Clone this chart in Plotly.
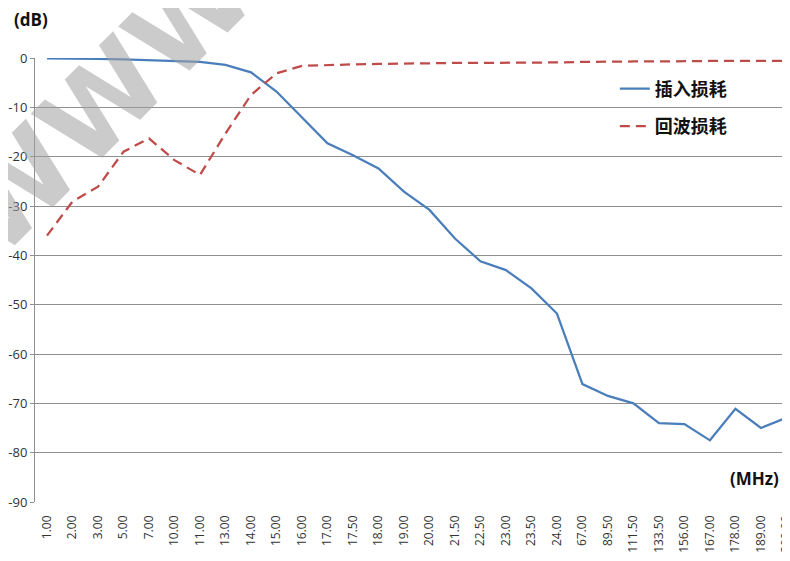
import plotly.graph_objects as go

categories = ["1.00", "2.00", "3.00", "5.00", "7.00", "10.00", "11.00", "13.00", "14.00", "15.00",
              "16.00", "17.00", "17.50", "18.00", "19.00", "20.00", "21.50", "22.50", "23.00", "23.50",
              "24.00", "67.00", "89.50", "111.50", "133.50", "156.00", "167.00", "178.00", "189.00", "200.00"]

insertion_loss = [-0.1, -0.1, -0.2, -0.3, -0.5, -0.6, -0.8, -1.4, -2.9, -6.8,
                  -12.0, -17.3, -19.7, -22.4, -27.1, -30.8, -36.6, -41.2, -43.0, -46.7,
                  -51.8, -66.1, -68.5, -70.0, -74.0, -74.2, -77.5, -71.1, -75.0, -72.9]

return_loss = [-36.0, -29.1, -26.1, -19.0, -16.3, -20.7, -23.7, -15.3, -7.5, -3.1,
               -1.6, -1.4, -1.3, -1.2, -1.1, -1.0, -1.0, -1.0, -1.0, -1.0,
               -0.9, -0.8, -0.7, -0.7, -0.7, -0.6, -0.6, -0.6, -0.6, -0.6]

series_names = ["插入损耗", "回波损耗"]
y_ticks = [0, -10, -20, -30, -40, -50, -60, -70, -80, -90]
y_tick_labels = ["0", "-10", "-20", "-30", "-40", "-50", "-60", "-70", "-80", "-90"]

fig = go.Figure()
fig.add_trace(go.Scatter(x=categories, y=insertion_loss, mode="lines", name=series_names[0],
                         legendgroup="a",
                         line=dict(color="#4a7ebb", width=2.25)))
fig.add_trace(go.Scatter(x=categories, y=return_loss, mode="lines", name=series_names[1],
                         legendgroup="b",
                         line=dict(color="#be4b48", width=2.25, dash="10px,6px")))

fig.update_layout(
    width=782, height=553,
    margin=dict(l=27, r=0, t=50, b=59, autoexpand=False),
    paper_bgcolor="white", plot_bgcolor="white",
    font=dict(family="Open Sans, Noto Sans CJK SC", color="#222"),
    showlegend=True,
    legend=dict(x=0.768, y=0.972,
                xanchor="left", yanchor="top", bgcolor="rgba(0,0,0,0)",
                font=dict(family="Noto Sans CJK SC", size=18, color="#111", weight="bold"),
                tracegroupgap=11, traceorder="grouped"),
    xaxis=dict(type="category", range=[-0.47, 29.14], tickangle=-90,
               showgrid=False, showline=False, zeroline=False, ticks="",
               tickfont=dict(size=12, color="#333"), ticklabelstandoff=10),
    yaxis=dict(range=[-90, 0], tickvals=y_ticks, ticktext=y_tick_labels,
               showgrid=True, gridcolor="#8f8f8f", gridwidth=1,
               zeroline=False, showline=True, linecolor="#8f8f8f", linewidth=1,
               ticks="outside", ticklen=4, tickcolor="#8f8f8f",
               tickfont=dict(size=13, color="#333")),
    annotations=[
        dict(text="(dB)", xref="paper", yref="paper", x=-0.03, y=1.086, xanchor="left", yanchor="middle",
             showarrow=False, font=dict(size=17, color="#111", weight="bold")),
        dict(text="(MHz)", xref="paper", yref="paper", x=0.988, y=0.054, xanchor="right", yanchor="middle",
             showarrow=False, font=dict(size=17, color="#111", weight="bold")),
        dict(text="WWW", xref="paper", yref="paper", x=0.09, y=0.9, xanchor="center", yanchor="middle",
             textangle=-45, showarrow=False,
             font=dict(family="DejaVu Sans", size=112, color="rgba(160,160,160,0.55)", weight="bold")),
    ],
)

fig.write_html("out.html")
